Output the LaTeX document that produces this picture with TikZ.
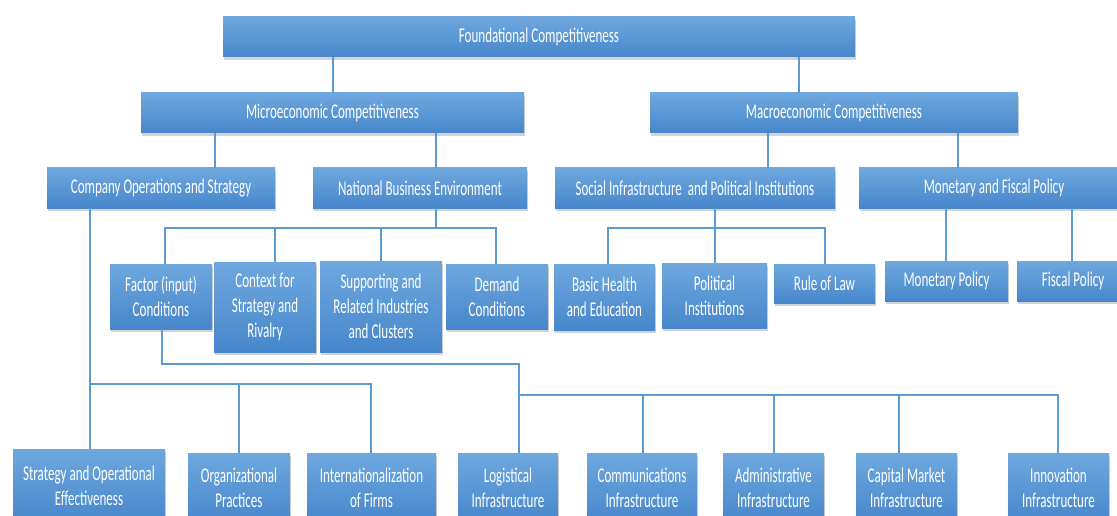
\documentclass[tikz,border=0pt]{standalone}
\usepackage{fontspec}
\setmainfont{Carlito}[FakeStretch=0.62]
\usetikzlibrary{shadows}
\definecolor{boxtop}{HTML}{6FA8DF}
\definecolor{boxbot}{HTML}{4686CB}
\definecolor{linec}{HTML}{5B9BD5}
\begin{document}
\begin{tikzpicture}[x=1pt,y=-1pt,
  box/.style={rectangle, inner sep=0pt, align=center, text=white,
    top color=boxtop, bottom color=boxbot, draw=none,
    drop shadow={opacity=0.35, shadow xshift=1pt, shadow yshift=-3pt},
    font=\fontsize{21}{25}\selectfont},
  conn/.style={draw=linec, line width=2pt}]
\useasboundingbox (0,0) rectangle (1117,516);
\clip (0,0) rectangle (1117,516);
% level 1-2
\node[box, minimum width=632pt, minimum height=40pt] (found) at (539,37) {Foundational Competitiveness};
\node[box, minimum width=383pt, minimum height=40pt] (micro) at (332.5,113) {Microeconomic Competitiveness};
\node[box, minimum width=368pt, minimum height=40pt] (macro) at (834,113) {Macroeconomic Competitiveness};
% level 3
\node[box, minimum width=228pt, minimum height=40pt] (cos) at (161,188) {Company Operations and Strategy};
\node[box, minimum width=214pt, minimum height=40pt] (nbe) at (420,188) {National Business Environment};
\node[box, minimum width=280pt, minimum height=40pt] (social) at (695,188) {Social Infrastructure\ \ and Political Institutions};
\node[box, minimum width=270pt, minimum height=40pt] (mfp) at (994,188) {Monetary and Fiscal Policy};
% level 4
\node[box, minimum width=102pt, minimum height=65pt] (factor) at (161,296.5) {Factor (input)\\Conditions};
\node[box, minimum width=102pt, minimum height=90pt] (context) at (265,307) {Context for\\Strategy and\\Rivalry};
\node[box, minimum width=122pt, minimum height=91pt] (support) at (381,306.5) {Supporting and\\Related Industries\\and Clusters};
\node[box, minimum width=102pt, minimum height=65pt] (demand) at (497,296.5) {Demand\\Conditions};
\node[box, minimum width=101pt, minimum height=66pt] (basic) at (604.5,297) {Basic Health\\and Education};
\node[box, minimum width=105pt, minimum height=65pt] (polit) at (714.5,295.5) {Political\\Institutions};
\node[box, minimum width=101pt, minimum height=39pt] (rule) at (824.5,283.5) {Rule of Law};
\node[box, minimum width=123pt, minimum height=40pt] (monpol) at (946.5,281) {Monetary Policy};
\node[box, minimum width=112pt, minimum height=40pt] (fiscal) at (1073,281) {Fiscal Policy};
% bottom
\node[box, minimum width=152pt, minimum height=74pt] (soe) at (89,486) {Strategy and Operational\\Effectiveness};
\node[box, minimum width=102pt, minimum height=70pt] (org) at (239,488) {Organizational\\Practices};
\node[box, minimum width=129pt, minimum height=70pt] (intl) at (371.5,488) {Internationalization\\of Firms};
\node[box, minimum width=100pt, minimum height=70pt] (logi) at (508,488) {Logistical\\Infrastructure};
\node[box, minimum width=110pt, minimum height=70pt] (comm) at (642,488) {Communications\\Infrastructure};
\node[box, minimum width=101pt, minimum height=70pt] (admin) at (773.5,488) {Administrative\\Infrastructure};
\node[box, minimum width=101pt, minimum height=70pt] (capm) at (906.5,488) {Capital Market\\Infrastructure};
\node[box, minimum width=101pt, minimum height=70pt] (innov) at (1058.5,488) {Innovation\\Infrastructure};
% helper coordinates
\coordinate (xa) at (333,0);
\coordinate (xb) at (799,0);
\coordinate (xc) at (215,0);
\coordinate (xd) at (436,0);
\coordinate (xe) at (768,0);
\coordinate (xf) at (958,0);
\coordinate (busA) at (436,228);
\coordinate (busA1) at (165,228);
\coordinate (busA2) at (275,228);
\coordinate (busA3) at (381,228);
\coordinate (busA4) at (496,228);
\coordinate (busB) at (715,228);
\coordinate (busB1) at (608,228);
\coordinate (busB3) at (825,228);
\coordinate (xg) at (946,0);
\coordinate (xh) at (1072,0);
\coordinate (busC) at (90,384);
\coordinate (busC2) at (239,384);
\coordinate (busC3) at (371,384);
\coordinate (fk1) at (162,364);
\coordinate (fk2) at (519,364);
\coordinate (busD) at (519,395);
\coordinate (busD2) at (643,395);
\coordinate (busD3) at (774,395);
\coordinate (busD4) at (899,395);
\coordinate (busD5) at (1058,395);
% connectors
\draw[conn] (xa |- found.south) -- (xa |- micro.north);
\draw[conn] (xb |- found.south) -- (xb |- macro.north);
\draw[conn] (xc |- micro.south) -- (xc |- cos.north);
\draw[conn] (xd |- micro.south) -- (xd |- nbe.north);
\draw[conn] (xe |- macro.south) -- (xe |- social.north);
\draw[conn] (xf |- macro.south) -- (xf |- mfp.north);
\draw[conn] (busA |- nbe.south) -- (busA);
\draw[conn] (busA1 |- factor.north) -- (busA1) -- (busA4) -- (busA4 |- demand.north);
\draw[conn] (busA2) -- (busA2 |- context.north);
\draw[conn] (busA3) -- (busA3 |- support.north);
\draw[conn] (busB |- social.south) -- (busB) -- (busB |- polit.north);
\draw[conn] (busB1 |- basic.north) -- (busB1) -- (busB3) -- (busB3 |- rule.north);
\draw[conn] (xg |- mfp.south) -- (xg |- monpol.north);
\draw[conn] (xh |- mfp.south) -- (xh |- fiscal.north);
\draw[conn] (busC |- cos.south) -- (busC |- soe.north);
\draw[conn] (busC) -- (busC3) -- (busC3 |- intl.north);
\draw[conn] (busC2) -- (busC2 |- org.north);
\draw[conn] (fk1 |- factor.south) -- (fk1) -- (fk2) -- (fk2 |- logi.north);
\draw[conn] (busD) -- (busD5) -- (busD5 |- innov.north);
\draw[conn] (busD2) -- (busD2 |- comm.north);
\draw[conn] (busD3) -- (busD3 |- admin.north);
\draw[conn] (busD4) -- (busD4 |- capm.north);
\end{tikzpicture}
\end{document}
